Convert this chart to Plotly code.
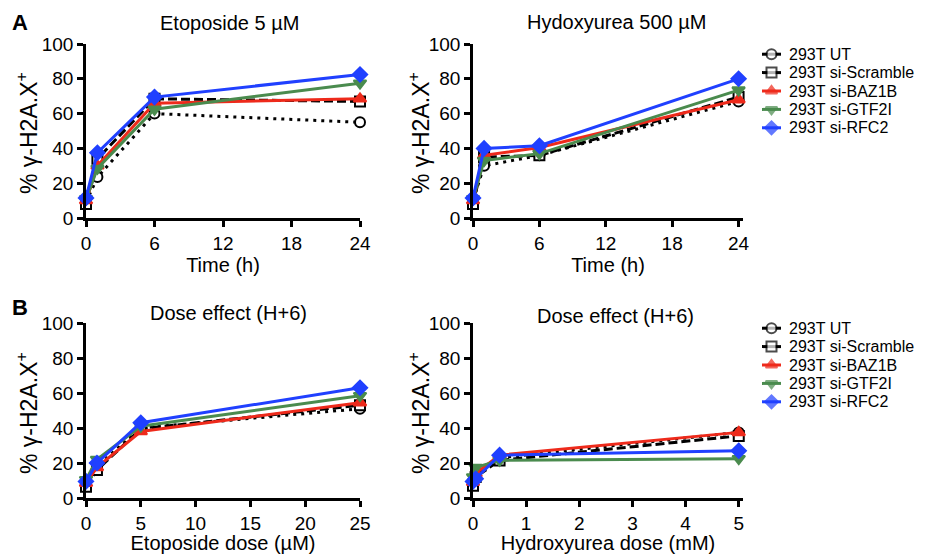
import plotly.graph_objects as go

# ---------------- data ----------------
SERIES = ["293T UT", "293T si-Scramble", "293T si-BAZ1B", "293T si-GTF2I", "293T si-RFC2"]

TIME_H = [0, 1, 6, 24]
ETO_DOSE_UM = [0, 1, 5, 25]
HU_DOSE_MM = [0, 0.05, 0.5, 5]

# % gamma-H2A.X+ per series (order as SERIES)
ETO_TIME_Y = [
    [9, 23.5, 60, 55],
    [8, 34, 68.5, 67],
    [10, 30, 66, 68.5],
    [11, 28.5, 62.5, 77.5],
    [11.5, 37.5, 69.5, 82.5],
]
HU_TIME_Y = [
    [10, 30, 36, 67],
    [8, 35, 36, 69.5],
    [10, 36, 40.5, 68],
    [11, 33, 37, 73.5],
    [11.5, 40, 41.5, 80],
]
ETO_DOSE_Y = [
    [8, 18, 40, 51],
    [6.5, 16, 39.5, 53],
    [8.5, 17.5, 38, 54.5],
    [10.5, 22, 41, 58.5],
    [9.5, 20, 43, 63],
]
HU_DOSE_Y = [
    [8, 14, 23, 37.5],
    [7, 12, 21.5, 35.5],
    [9, 14, 24.5, 37.5],
    [12, 17.5, 21.5, 22.5],
    [9.5, 11, 24.5, 27],
]

Y_TICKS = [0, 20, 40, 60, 80, 100]
TIME_TICKS = [0, 6, 12, 18, 24]
ETO_TICKS = [0, 5, 10, 15, 20, 25]
HU_TICKS = [0, 1, 2, 3, 4, 5]
LEGEND_KEY_X = [0, 1, 2]

# ---------------- styles ----------------
COLORS = ["black", "black", "#ee2a1b", "#4a8b4e", "#2040ff"]
DASHES = ["3px,5px", "9px,4px", "solid", "solid", "solid"]
SYMBOLS = ["circle", "square", "triangle-up", "triangle-down", "diamond"]
FILLS = ["white", "white", "#ee2a1b", "#4a8b4e", "#2040ff"]
MSIZE = [10, 10, 11, 11, 11]
FONT = "Liberation Sans, Arial, Helvetica, sans-serif"

W, H = 929, 554


def px(xp):
    return xp / W


def py(yp):
    return 1 - yp / H


fig = go.Figure()

panels = [
    ("x", "y", TIME_H, ETO_TIME_Y),
    ("x2", "y2", TIME_H, HU_TIME_Y),
    ("x3", "y3", ETO_DOSE_UM, ETO_DOSE_Y),
    ("x4", "y4", HU_DOSE_MM, HU_DOSE_Y),
]
for xa, ya, xs, ys in panels:
    for i, name in enumerate(SERIES):
        fig.add_trace(go.Scatter(
            x=xs, y=ys[i], xaxis=xa, yaxis=ya, name=name, showlegend=False,
            mode="lines+markers", cliponaxis=False,
            line=dict(color=COLORS[i], width=3, dash=DASHES[i]),
            marker=dict(symbol=SYMBOLS[i], size=MSIZE[i], color=FILLS[i],
                        line=dict(color=COLORS[i], width=2)),
        ))

# legend keys drawn on small categorical axes (one per row)
for xa, ya in [("x5", "y5"), ("x6", "y6")]:
    for i, name in enumerate(SERIES):
        fig.add_trace(go.Scatter(
            x=LEGEND_KEY_X, y=[name] * len(LEGEND_KEY_X), xaxis=xa, yaxis=ya,
            showlegend=False, mode="lines+markers", cliponaxis=False, hoverinfo="skip",
            line=dict(color=COLORS[i], width=3, dash="solid"),
            marker=dict(symbol=SYMBOLS[i], size=[0, 10, 0], color=FILLS[i],
                        line=dict(color=COLORS[i], width=[0, 2, 0])),
        ))

axis_common = dict(
    showline=True, linecolor="black", linewidth=2.5, mirror=False,
    ticks="outside", ticklen=6, tickwidth=2.5, tickcolor="black",
    showgrid=False, zeroline=False, automargin=False,
    tickfont=dict(family=FONT, size=19, color="black"),
)

legend_axis = dict(
    type="category", categoryorder="array", categoryarray=SERIES,
    tickmode="array", tickvals=SERIES, ticktext=SERIES,
    range=[4.5, -0.5], side="right", showline=False, showgrid=False,
    zeroline=False, ticks="", ticklabelstandoff=7, automargin=False,
    tickfont=dict(family=FONT, size=16, color="black"),
)
legend_xaxis = dict(range=[0, 2], visible=False, automargin=False)

XL = [px(86), px(360)]
XR = [px(473), px(743)]
YT = [py(218), py(44)]
YB = [py(498), py(323)]
XLEG = [px(762), px(781)]


def xtitle(text):
    return dict(text=text, font=dict(family=FONT, size=20, color="black"), standoff=6)


fig.update_layout(
    template="none",
    width=W, height=H, margin=dict(l=0, r=0, t=0, b=0, pad=0), autosize=False,
    paper_bgcolor="white", plot_bgcolor="white",
    font=dict(family=FONT, color="black"),
    showlegend=False,
    xaxis=dict(axis_common, domain=XL, anchor="y", range=[0, 24], tickvals=TIME_TICKS,
               title=xtitle("Time (h)")),
    yaxis=dict(axis_common, domain=YT, anchor="x", range=[0, 100], tickvals=Y_TICKS),
    xaxis2=dict(axis_common, domain=XR, anchor="y2", range=[0, 24.4], tickvals=TIME_TICKS,
                title=xtitle("Time (h)")),
    yaxis2=dict(axis_common, domain=YT, anchor="x2", range=[0, 100], tickvals=Y_TICKS),
    xaxis3=dict(axis_common, domain=XL, anchor="y3", range=[0, 25], tickvals=ETO_TICKS,
                title=xtitle("Etoposide dose (µM)")),
    yaxis3=dict(axis_common, domain=YB, anchor="x3", range=[0, 100], tickvals=Y_TICKS),
    xaxis4=dict(axis_common, domain=XR, anchor="y4", range=[0, 5.08], tickvals=HU_TICKS,
                title=xtitle("Hydroxyurea dose (mM)")),
    yaxis4=dict(axis_common, domain=YB, anchor="x4", range=[0, 100], tickvals=Y_TICKS),
    xaxis5=dict(legend_xaxis, domain=XLEG, anchor="y5"),
    yaxis5=dict(legend_axis, domain=[py(137), py(45)], anchor="x5"),
    xaxis6=dict(legend_xaxis, domain=XLEG, anchor="y6"),
    yaxis6=dict(legend_axis, domain=[py(411), py(319)], anchor="x6"),
)

titles = [
    ("Etoposide 5 µM", 229, 23),
    ("Hydoxyurea 500 µM", 616, 22),
    ("Dose effect (H+6)", 228, 313),
    ("Dose effect (H+6)", 615, 316),
]
for text, xc, yc in titles:
    fig.add_annotation(text=text, x=px(xc), y=py(yc), xref="paper", yref="paper",
                       xanchor="center", yanchor="middle", showarrow=False,
                       font=dict(family=FONT, size=20, color="black"))

# y-axis titles (rotated)
for xc, yc in [(27, 133), (419, 133), (27, 413), (419, 413)]:
    fig.add_annotation(text="% γ-H2A.X<sup>+</sup>", x=px(xc), y=py(yc), xref="paper", yref="paper",
                       xanchor="center", yanchor="middle", showarrow=False, textangle=-90,
                       font=dict(family=FONT, size=23, color="black"))

for text, yc in [("A", 22), ("B", 307)]:
    fig.add_annotation(text=f"<b>{text}</b>", x=px(20), y=py(yc), xref="paper", yref="paper",
                       xanchor="center", yanchor="middle", showarrow=False,
                       font=dict(family=FONT, size=22, color="black"))

fig.write_html("out.html", config={"displayModeBar": False},
               post_script="document.body.style.margin='0';")
